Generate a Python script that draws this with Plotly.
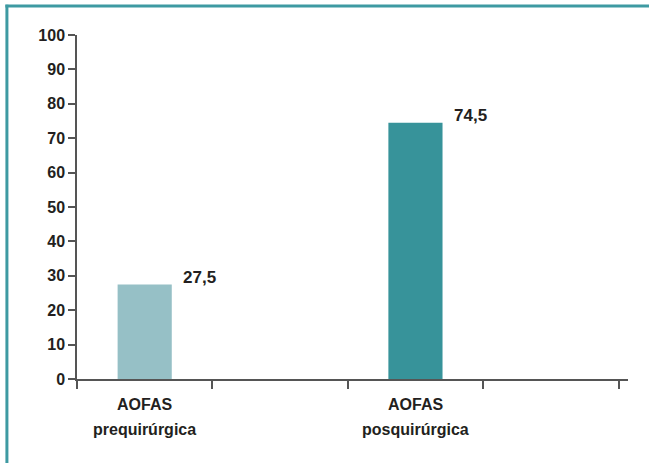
import plotly.graph_objects as go

cat_line1 = ["AOFAS", "", "AOFAS", ""]
cat_line2 = ["prequirúrgica", "", "posquirúrgica", ""]
values = [27.5, None, 74.5, None]
value_labels = ["27,5", None, "74,5", None]
bar_colors = ["#96c0c6", "#ffffff", "#37939a", "#ffffff"]
y_ticks = list(range(0, 101, 10))

FONT = "Liberation Sans, Arial, sans-serif"
TXT = "#231f20"

n = len(cat_line1)
fig = go.Figure()
fig.add_trace(go.Bar(
    x=list(range(n)),
    y=values,
    width=0.4,
    marker=dict(color=bar_colors, line=dict(width=0)),
    hoverinfo="skip",
))

for i, (v, lab) in enumerate(zip(values, value_labels)):
    if v is None:
        continue
    fig.add_annotation(
        x=i + 0.27, y=v, xref="x", yref="y",
        text=lab, showarrow=False,
        xanchor="left", yanchor="middle", yshift=7,
        font=dict(family=FONT, size=17, color=TXT, weight="bold"),
    )

for i in range(n):
    for txt, shift in ((cat_line1[i], -25), (cat_line2[i], -50)):
        if not txt:
            continue
        fig.add_annotation(
            x=i, y=0, xref="x", yref="paper",
            text=txt, showarrow=False,
            xanchor="center", yanchor="middle", yshift=shift,
            font=dict(family=FONT, size=16, color=TXT, weight="bold"),
        )

teal = "#3e9aa2"
# frame lines (top and left)
fig.add_shape(type="line", xref="paper", yref="paper",
              x0=-0.13, x1=1.05, y0=1.0843, y1=1.0843,
              line=dict(color=teal, width=3))
fig.add_shape(type="line", xref="paper", yref="paper",
              x0=-0.1272, x1=-0.1272, y0=1.088, y1=-0.26,
              line=dict(color=teal, width=3))

fig.update_layout(
    width=649, height=463,
    margin=dict(l=77, r=21, t=35, b=84),
    plot_bgcolor="white", paper_bgcolor="white",
    showlegend=False,
    font=dict(family=FONT, size=16, color=TXT, weight="bold"),
)
boundaries = [i - 0.5 for i in range(n + 1)]
fig.update_xaxes(
    range=[-0.5, 3.57],
    tickmode="array",
    tickvals=boundaries,
    ticktext=[""] * len(boundaries),
    showline=True, linecolor="#555555", linewidth=1.5,
    ticks="outside", ticklen=8, tickcolor="#555555", tickwidth=1.5,
    showgrid=False, zeroline=False,
)
fig.update_yaxes(
    range=[0, 100],
    tickmode="array", tickvals=y_ticks,
    showline=True, linecolor="#555555", linewidth=1.5,
    ticks="outside", ticklen=7, tickcolor="#555555", tickwidth=1.5,
    showgrid=False, zeroline=False,
    tickfont=dict(family=FONT, size=16, color=TXT, weight="bold"),
)

fig.write_html("out.html", config={"displayModeBar": False},
               post_script="document.body.style.margin='0';")
